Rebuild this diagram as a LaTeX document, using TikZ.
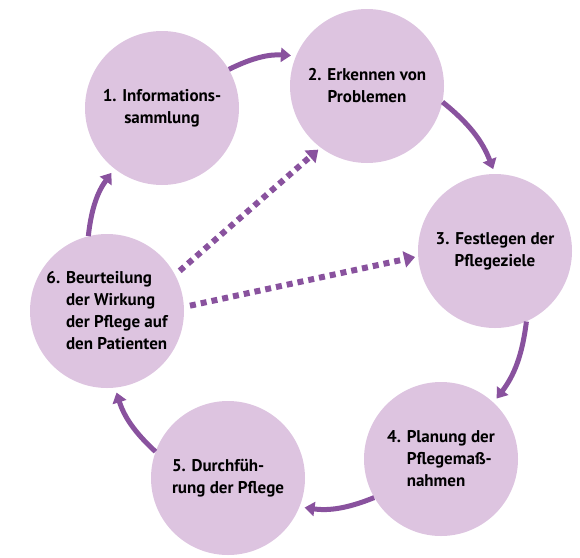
\documentclass[tikz,border=0pt]{standalone}
\usepackage{fontspec}
\setmainfont{PT Sans}
\usetikzlibrary{arrows.meta}
\definecolor{lila}{RGB}{221,196,224}
\definecolor{violett}{RGB}{137,82,158}
\tikzset{
  phase/.style={circle,fill=lila,minimum size=154pt,inner sep=0pt,align=center,font=\fontsize{17}{22}\selectfont\bfseries},
  weiter/.style={draw=violett,line width=5pt,-{Triangle[length=10pt,width=14pt]},shorten >=5pt},
  rueck/.style={draw=violett,line width=6pt,dash pattern=on 6pt off 5pt,-{Triangle[length=11pt,width=16pt]},shorten <=6pt,shorten >=3pt}
}

\begin{document}
\begin{tikzpicture}[x=1pt,y=1pt]
\useasboundingbox (0,0) rectangle (580,-557);

\node[phase] (p1) at (162,-108) {1. Informations-\\sammlung};
\node[phase] (p2) at (367,-86) {2. Erkennen von\\Problemen};
\node[phase] (p3) at (495,-251) {3. Festlegen der\\Pflegeziele};
\node[phase,align=left] (p4) at (441,-459) {4. Planung der\\\hphantom{4. }Pflegemaß-\\\hphantom{4. }nahmen};
\node[phase,align=left] (p5) at (228,-478) {5. Durchfüh-\\rung der Pflege};
\node[phase,align=left] (p6) at (107,-311) {6. Beurteilung\\\hphantom{6. }der Wirkung\\\hphantom{6. }der Pflege auf\\\hphantom{6. }den Patienten};

\draw[weiter] (p1.30) to[bend left=15] (p2.157);
\draw[weiter] (p2.-12) to[bend left=15] (p3.90);
\draw[weiter] (p3.-66) to[bend left=15] (p4.47);
\draw[weiter] (p4.210) to[bend left=15] (p5.-22);
\draw[weiter] (p5.160) to[bend left=15] (p6.-84);
\draw[weiter] (p6.104) to[bend left=15] (p1.232);

\draw[rueck] (p6.28) -- (p2.233);
\draw[rueck] (p6.3) -- (p3.184);
\end{tikzpicture}
\end{document}
